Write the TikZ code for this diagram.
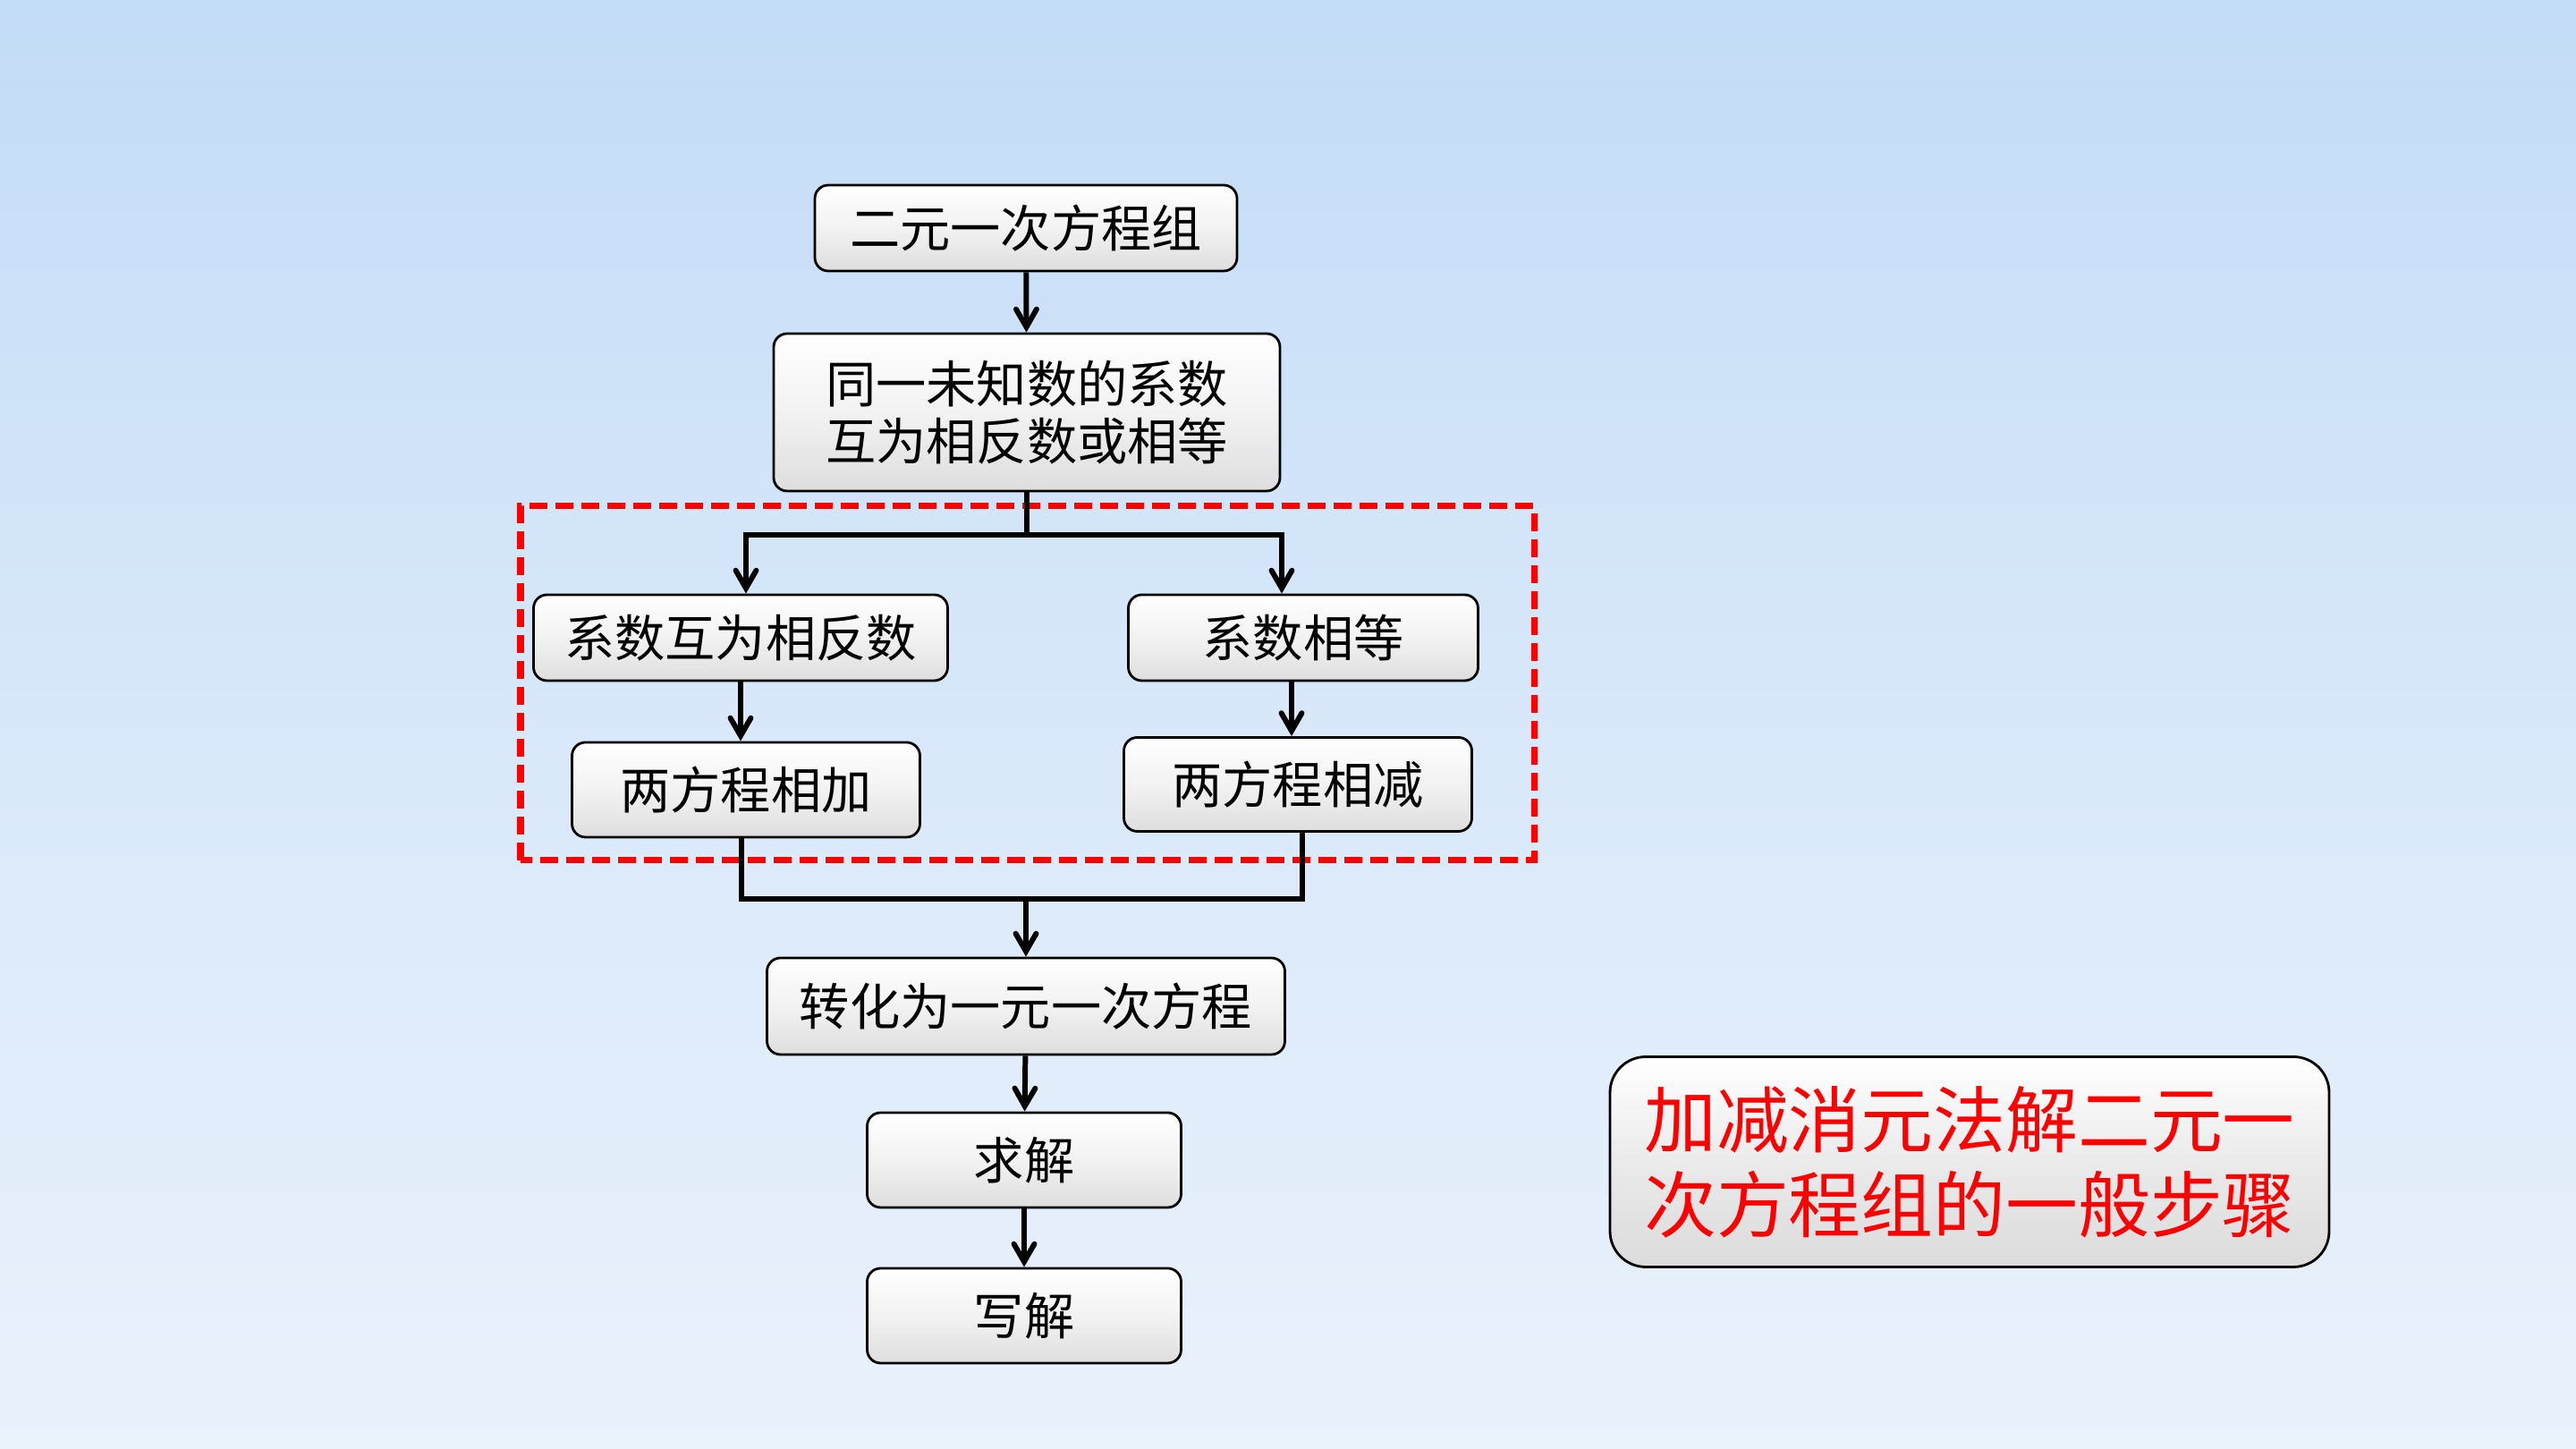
\documentclass[tikz,border=0pt]{standalone}
\usepackage{fontspec}
\newfontfamily\cjk{Noto Sans CJK SC}
\usetikzlibrary{shapes}
\usetikzlibrary{arrows}
\definecolor{bgtop}{RGB}{195,220,247}
\definecolor{bgbot}{RGB}{234,242,252}
\tikzset{
	flownode/.style = {align=center, inner sep=0pt, text centered,
		font=\cjk\fontsize{16}{18}\selectfont},
	fl_box/.style = {flownode, rectangle, rounded corners=0.15cm, draw=black,
		line width=0.8pt, top color=white, bottom color=black!13,
		middle color=black!5, minimum height=0.96cm},% etape de l'organigramme
	fl_title/.style = {flownode, rectangle, rounded corners=0.4cm, draw=black,
		line width=0.8pt, top color=white, bottom color=black!14,
		middle color=black!8, text=red, font=\cjk\fontsize{23}{27}\selectfont},% titre
	fl_conn/.style = {line width=1.7pt},
	fl_arrow/.style = {fl_conn, ->, >=angle 60}
}

\begin{document}
\begin{tikzpicture}
	\useasboundingbox (0,0) rectangle (28.8,16.2);
	\shade[top color=bgtop, bottom color=bgbot, middle color=bgtop!45!bgbot]
		(0,0) rectangle (28.8,16.2);
	% etapes
	\node[fl_box, minimum width=4.72cm] (sys) at (11.47,13.65) {二元一次方程组};
	\node[fl_box, minimum width=5.66cm, minimum height=1.76cm] (coef) at (11.48,11.59)
		{同一未知数的系数\\互为相反数或相等};
	\node[fl_box, minimum width=4.63cm] (oppo) at (8.28,9.07) {系数互为相反数};
	\node[fl_box, minimum width=3.91cm] (egal) at (14.57,9.07) {系数相等};
	\node[fl_box, minimum width=3.89cm, minimum height=1.06cm] (add) at (8.34,7.37) {两方程相加};
	\node[fl_box, minimum width=3.89cm, minimum height=1.05cm] (sub) at (14.51,7.43) {两方程相减};
	\node[fl_box, minimum width=5.79cm, minimum height=1.08cm] (uni) at (11.47,4.95) {转化为一元一次方程};
	\node[fl_box, minimum width=3.51cm, minimum height=1.06cm] (solve) at (11.45,3.23) {求解};
	\node[fl_box, minimum width=3.51cm, minimum height=1.06cm] (write) at (11.45,1.49) {写解};
	\node[fl_title, minimum width=8.04cm, minimum height=2.35cm] (title) at (22.02,3.21)
		{加减消元法解二元一\\次方程组的一般步骤};
	% cadre rouge
	\draw[red, line width=2pt, dash pattern=on 0.2cm off 0.09cm]
		(5.82,6.58) rectangle (17.15,10.54);
	% connecteurs
	\draw[fl_arrow] (sys) -- (coef);
	\draw[fl_conn] (coef.south) -- ++(0,-0.48) coordinate (split);
	\draw[fl_arrow] (split) -| ([xshift=0.06cm]oppo.north);
	\draw[fl_arrow] (split) -| ([xshift=-0.24cm]egal.north);
	\draw[fl_arrow] (oppo) -- (oppo |- add.north);
	\draw[fl_arrow] ([xshift=-0.13cm]egal.south) -- ([xshift=-0.13cm]egal.south |- sub.north);
	\coordinate (merge) at (11.47,6.15);
	\draw[fl_conn] ([xshift=-0.05cm]add.south) |- (merge) -| ([xshift=0.05cm]sub.south);
	\draw[fl_arrow] (merge) -- (uni.north);
	\draw[fl_arrow] (uni) -- (solve);
	\draw[fl_arrow] (solve) -- (write);
\end{tikzpicture}
\end{document}
